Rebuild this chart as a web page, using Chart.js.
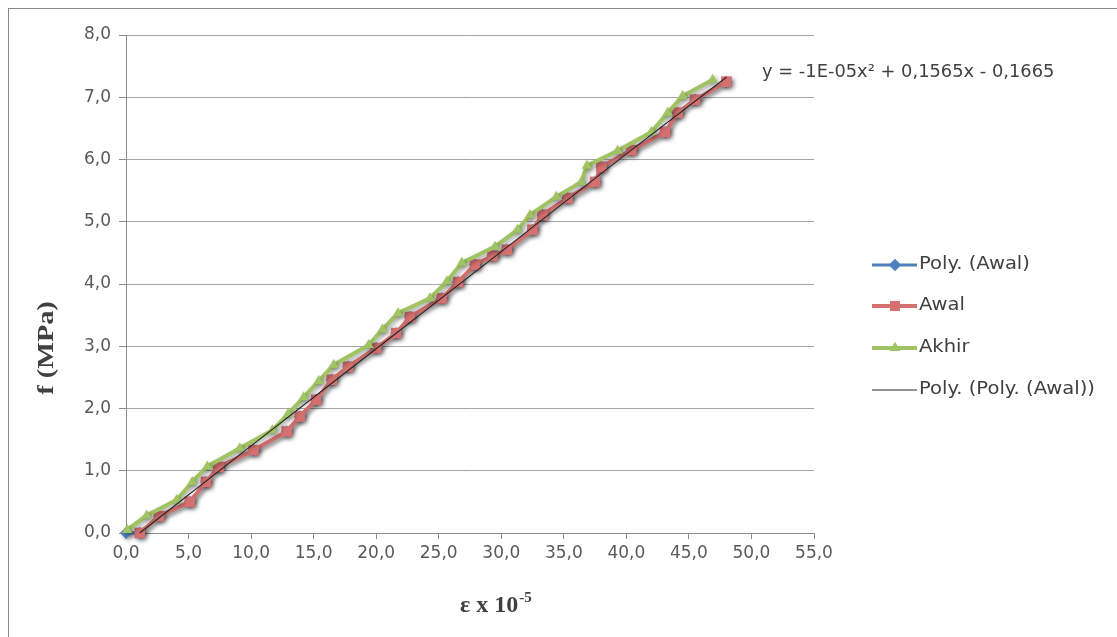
<!DOCTYPE html>
<html>
<head>
<meta charset="utf-8">
<script src="https://cdn.jsdelivr.net/npm/chart.js@4.4.1/dist/chart.umd.min.js"></script>
<style>
  html,body{margin:0;padding:0;background:#fff;}
  #wrap{position:relative;width:1117px;height:637px;}
</style>
</head>
<body>
<div id="wrap"><canvas id="c" width="1117" height="637"></canvas></div>
<script>
// data (x = strain x 1e-5, y = stress MPa)
const awalX  = [1.1, 2.65, 5.1, 6.4, 7.4, 10.2, 12.85, 13.9, 15.2, 16.45, 17.75, 20.0, 21.6, 22.7, 25.25, 26.55, 27.9, 29.3, 30.45, 32.5, 33.3, 35.3, 37.5, 38.0, 40.4, 43.1, 44.1, 45.5, 48.0];
const awalY  = [0.0, 0.27, 0.50, 0.82, 1.06, 1.33, 1.63, 1.87, 2.14, 2.46, 2.67, 2.97, 3.21, 3.47, 3.77, 4.03, 4.31, 4.45, 4.55, 4.87, 5.11, 5.38, 5.64, 5.88, 6.15, 6.44, 6.75, 6.96, 7.25];

const akhirX = [0.1, 1.65, 4.05, 5.3, 6.5, 9.1, 11.7, 12.95, 14.2, 15.4, 16.6, 19.4, 20.5, 21.75, 24.3, 25.65, 26.85, 29.5, 31.3, 32.3, 34.4, 36.4, 36.85, 39.3, 42.0, 43.3, 44.5, 46.9];
const akhirY = [0.05, 0.28, 0.53, 0.82, 1.07, 1.36, 1.65, 1.91, 2.18, 2.44, 2.70, 3.02, 3.27, 3.53, 3.77, 4.04, 4.34, 4.60, 4.87, 5.11, 5.40, 5.64, 5.90, 6.14, 6.44, 6.75, 7.02, 7.28];

// blue series sits under the red one, starting at the origin
const polyAwalX = [0.0].concat(awalX);
const polyAwalY = [0.0].concat(awalY);

// thin black trend line
const trendX = [1.1, 10.0, 20.0, 30.0, 40.0, 48.0];
const trendY = [0.0, 1.40, 2.96, 4.52, 6.09, 7.32];

const xTicks = [0, 5, 10, 15, 20, 25, 30, 35, 40, 45, 50, 55];
const yTicks = [0, 1, 2, 3, 4, 5, 6, 7, 8];

const equation = 'y = -1E-05x² + 0,1565x - 0,1665';
const legendItems = [
  { label:'Poly. (Awal)',         color:'#4f81bd', style:'rectRot',  width:3 },
  { label:'Awal',                 color:'#d4706f', style:'rect',     width:4 },
  { label:'Akhir',                color:'#a0c462', style:'triangle', width:4 },
  { label:'Poly. (Poly. (Awal))', color:'#262626', style:null,       width:1 }
];

const pts = (xs, ys) => xs.map((x,i) => ({ x, y: ys[i] }));
const comma = v => v.toFixed(1).replace('.', ',');

// soft drop shadow like the office chart
const shadowPlugin = {
  id:'shadow',
  beforeDatasetDraw(chart, args){
    const ctx = chart.ctx;
    ctx.save();
    if(args.index !== 0){
      ctx.shadowColor = 'rgba(0,0,0,0.35)';
      ctx.shadowBlur = 4;
      ctx.shadowOffsetX = 2;
      ctx.shadowOffsetY = 2;
    }
  },
  afterDatasetDraw(chart){ chart.ctx.restore(); }
};

// stretched text, the source picture is a bit wider than the fonts
function wideText(ctx, txt, x, y, sx){
  ctx.save();
  ctx.translate(x, y);
  ctx.scale(sx, 1);
  ctx.fillText(txt, 0, 0);
  ctx.restore();
}

const extrasPlugin = {
  id:'extras',
  beforeDraw(chart){
    const ctx = chart.ctx;
    ctx.save();
    ctx.fillStyle = '#fff';
    ctx.fillRect(0, 0, chart.width, chart.height);
    ctx.strokeStyle = '#8a8a8a';
    ctx.lineWidth = 1;
    ctx.strokeRect(8.5, 8.5, 1200, 700);
    ctx.restore();
  },
  afterDraw(chart){
    const ctx = chart.ctx;
    ctx.save();
    // legend
    ctx.font = '17px "DejaVu Sans"';
    ctx.textBaseline = 'middle';
    const ys = [265, 306, 348, 390];
    legendItems.forEach((it, i) => {
      const y = ys[i];
      ctx.strokeStyle = it.color;
      ctx.lineWidth = it.width;
      ctx.beginPath(); ctx.moveTo(872, y); ctx.lineTo(917, y); ctx.stroke();
      if(it.style){
        ctx.fillStyle = it.color;
        Chart.helpers.drawPoint(ctx, { pointStyle: it.style, radius: it.style === 'rect' ? 7 : 6, borderWidth: 0 }, 895, y);
        ctx.fill();
      }
      ctx.fillStyle = '#404040';
      wideText(ctx, it.label, 919, y, 1.15);
    });
    // trend equation
    wideText(ctx, equation, 762, 73, 1.05);

    // axis titles (bold serif)
    ctx.fillStyle = '#404040';
    ctx.font = 'bold 24px "Liberation Serif"';
    ctx.save();
    ctx.translate(47, 348);
    ctx.rotate(-Math.PI / 2);
    ctx.scale(1.18, 1);
    ctx.textAlign = 'center';
    ctx.textBaseline = 'middle';
    ctx.fillText('f (MPa)', 0, 0);
    ctx.restore();

    ctx.save();
    ctx.translate(460, 606);
    ctx.textBaseline = 'middle';
    ctx.textAlign = 'left';
    const base = 'ε x 10';
    ctx.fillText(base, 0, 0);
    const w = ctx.measureText(base).width;
    ctx.font = 'bold 15px "Liberation Serif"';
    ctx.fillText('-5', w + 1, -8);
    ctx.restore();
    ctx.restore();
  }
};

new Chart(document.getElementById('c'), {
  type:'scatter',
  data:{
    datasets:[
      { label:'Poly. (Poly. (Awal))', data: pts(trendX, trendY), showLine:true, borderColor:'#262626', borderWidth:1.2, pointRadius:0, order:0 },
      { label:'Akhir', data: pts(akhirX, akhirY), showLine:true, borderColor:'#a0c462', backgroundColor:'#a0c462', borderWidth:4, pointStyle:'triangle', pointRadius:6, pointBorderWidth:0, order:1 },
      { label:'Awal', data: pts(awalX, awalY), showLine:true, borderColor:'#d4706f', backgroundColor:'#d4706f', borderWidth:4, pointStyle:'rect', pointRadius:7.5, pointBorderWidth:0, order:2 },
      { label:'Poly. (Awal)', data: pts(polyAwalX, polyAwalY), showLine:true, borderColor:'#4f81bd', backgroundColor:'#4f81bd', borderWidth:3, pointStyle:'rectRot', pointRadius:6, pointBorderWidth:0, order:3 }
    ]
  },
  options:{
    responsive:false,
    animation:false,
    clip:false,
    layout:{ padding:{ left:0, top:35, right:303, bottom:0 } },
    plugins:{ legend:{ display:false }, tooltip:{ enabled:false } },
    scales:{
      x:{
        type:'linear', min:0, max:55,
        afterBuildTicks: s => { s.ticks = xTicks.map(v => ({ value:v })); },
        afterFit: s => { s.height = 104; },
        grid:{ drawOnChartArea:false, drawTicks:true, tickLength:6, tickColor:'#8c8c8c' },
        border:{ display:true, color:'#8c8c8c' },
        ticks:{ color:'#595959', font:{ family:'DejaVu Sans', size:17 }, padding:4, callback: v => comma(v), maxRotation:0, autoSkip:false }
      },
      y:{
        type:'linear', min:0, max:8,
        afterBuildTicks: s => { s.ticks = yTicks.map(v => ({ value:v })); },
        afterFit: s => { s.width = 126; },
        grid:{ color:'#a6a6a6', drawTicks:true, tickLength:7, tickColor:'#8c8c8c' },
        border:{ display:true, color:'#8c8c8c' },
        ticks:{ color:'#595959', font:{ family:'DejaVu Sans', size:17 }, padding:8, callback: v => comma(v) }
      }
    }
  },
  plugins:[shadowPlugin, extrasPlugin]
});
</script>
</body>
</html>
